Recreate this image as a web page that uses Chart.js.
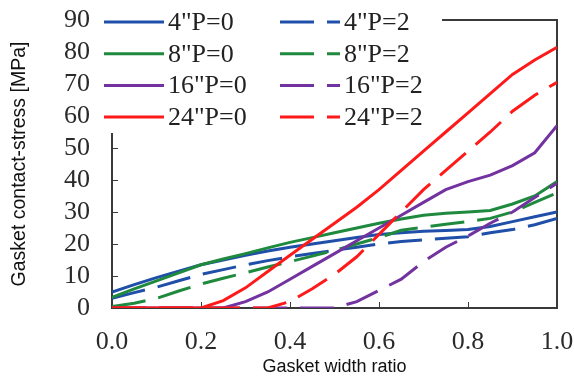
<!DOCTYPE html>
<html>
<head>
<meta charset="utf-8">
<script src="https://cdn.jsdelivr.net/npm/chart.js@4.4.1/dist/chart.umd.min.js"></script>
<style>
  html, body { margin: 0; padding: 0; background: #fff; }
  #wrap { width: 574px; height: 378px; }
</style>
</head>
<body>
<div id="wrap"><canvas id="stress" width="574" height="378"></canvas></div>
<script>
// gasket width ratio (x)
const ratio = [0, 0.05, 0.1, 0.15, 0.2, 0.25, 0.3, 0.35, 0.4, 0.45, 0.5,
               0.55, 0.6, 0.65, 0.7, 0.75, 0.8, 0.85, 0.9, 0.95, 1.0];

// contact stress [MPa], P=0
const s4p0  = [5, 7.3, 9.5, 11.5, 13.5, 15, 16.5, 17.8, 19, 20, 21, 22, 23, 23.5, 24, 24.2, 24.5, 25.5, 27, 28.5, 30];
const s8p0  = [3.3, 6, 8.5, 11, 13.5, 15.3, 17, 18.8, 20.5, 22, 23.5, 25, 26.5, 27.8, 29, 29.6, 30, 30.5, 32.5, 35, 39.5];
const s16p0 = [0, 0, 0, 0, 0, 0, 2, 5, 9, 13, 17, 21, 25, 29, 33, 37, 39.5, 41.5, 44.5, 48.5, 57];
const s24p0 = [0, 0, 0, 0, 0, 2.3, 6.3, 11.4, 16.5, 21.5, 26.5, 31.5, 37, 43, 49, 55, 61, 67, 73, 77.5, 81.5];

// contact stress [MPa], P=2
const s4p2  = [3, 4.8, 6.5, 8.5, 10.5, 12, 13.5, 14.8, 16, 17, 18, 19, 20, 20.8, 21.3, 21.8, 22.3, 23.5, 24.5, 26, 28];
const s8p2  = [0.5, 1.5, 3, 5.3, 7.5, 9.3, 11, 12.8, 14.5, 16.2, 18, 20, 22, 24.3, 25.2, 26.2, 27, 28, 30, 33, 36];
const s16p2 = [0, 0, 0, 0, 0, 0, 0, 0, 0, 0, 0, 2, 5.5, 9, 14.5, 19, 22.5, 26.5, 30, 34.5, 39];
const s24p2 = [0, 0, 0, 0, 0, 0, 0, 0, 2, 6, 10.5, 16, 23, 30, 37, 43, 49, 55, 61.5, 66.5, 70.5];

const labels = ['4"P=0', '8"P=0', '16"P=0', '24"P=0', '4"P=2', '8"P=2', '16"P=2', '24"P=2'];
const series = [s4p0, s8p0, s16p0, s24p0, s4p2, s8p2, s16p2, s24p2];

const BLUE = '#1f4fa8';
const GREEN = '#1f8a3e';
const PURPLE = '#7232a0';
const RED = '#ff1a1a';
const colors = [BLUE, GREEN, PURPLE, RED, BLUE, GREEN, PURPLE, RED];
const layer = [4, 3, 2, 1, 4, 3, 2, 1];
const DASH = [34, 13];

const datasets = series.map((vals, i) => ({
  label: labels[i],
  data: ratio.map((x, k) => ({ x: x, y: vals[k] })),
  borderColor: colors[i],
  backgroundColor: colors[i],
  borderWidth: 3,
  borderDash: i >= 4 ? DASH : [],
  pointRadius: 0,
  tension: 0,
  fill: false,
  order: layer[i]
}));

const serif = 'Liberation Serif, Times New Roman, serif';
const sans = 'Liberation Sans, Arial, sans-serif';

const framePlugin = {
  id: 'frame',
  beforeDatasetsDraw(chart) {
    const { ctx, chartArea: a, scales: { x, y } } = chart;
    ctx.save();
    ctx.strokeStyle = '#3a3a3a';
    ctx.lineWidth = 2;
    ctx.strokeRect(a.left, a.top, a.right - a.left, a.bottom - a.top);
    ctx.lineWidth = 1;
    ctx.beginPath();
    y.ticks.forEach(t => {
      const py = Math.round(y.getPixelForValue(t.value)) + 0.5;
      ctx.moveTo(a.left, py);
      ctx.lineTo(a.left + 6, py);
    });
    x.ticks.forEach(t => {
      const px = Math.round(x.getPixelForValue(t.value)) + 0.5;
      ctx.moveTo(px, a.bottom);
      ctx.lineTo(px, a.bottom - 6);
    });
    ctx.stroke();
    ctx.restore();
  },
  afterDraw(chart) {
    const ctx = chart.ctx;
    ctx.save();
    ctx.fillStyle = '#fff';
    ctx.fillRect(96, 0, 346, 133);
    ctx.font = '26px ' + serif;
    ctx.textBaseline = 'middle';
    ctx.fillStyle = '#222';
    chart.data.datasets.forEach((ds, i) => {
      const col = Math.floor(i / 4);
      const row = i % 4;
      const lx = col === 0 ? 104 : 280;
      const ly = 22 + row * 31.7;
      ctx.strokeStyle = ds.borderColor;
      ctx.lineWidth = 3;
      ctx.setLineDash(ds.borderDash);
      ctx.beginPath();
      ctx.moveTo(lx, ly);
      ctx.lineTo(lx + 60, ly);
      ctx.stroke();
      ctx.setLineDash([]);
      ctx.fillText(ds.label, lx + 64, ly + 1);
    });
    ctx.restore();
  }
};

new Chart(document.getElementById('stress'), {
  type: 'line',
  data: { datasets: datasets },
  options: {
    responsive: false,
    animation: false,
    layout: { padding: { top: 20, right: 17, bottom: 0, left: 0 } },
    plugins: {
      legend: { display: false },
      tooltip: { enabled: false }
    },
    scales: {
      x: {
        type: 'linear',
        min: 0,
        max: 1,
        grid: { display: false, drawTicks: false },
        border: { display: false },
        ticks: {
          stepSize: 0.2,
          autoSkip: false,
          maxRotation: 0,
          padding: 19,
          color: '#2a2a2a',
          font: { family: serif, size: 26 },
          callback: v => v.toFixed(1)
        },
        title: {
          display: true,
          text: 'Gasket width ratio',
          color: '#111',
          font: { family: sans, size: 18 },
          padding: { top: 0, bottom: 0 }
        },
        afterFit: s => {
          s.height = 70;
          s.paddingLeft = 0;
          s.paddingRight = 0;
        }
      },
      y: {
        min: 0,
        max: 90,
        grid: { display: false, drawTicks: false },
        border: { display: false },
        ticks: {
          stepSize: 10,
          autoSkip: false,
          padding: 22,
          color: '#2a2a2a',
          font: { family: serif, size: 26 }
        },
        title: {
          display: true,
          text: 'Gasket contact-stress [MPa]',
          color: '#111',
          font: { family: sans, size: 19.5 },
          padding: { top: 8, bottom: 0 }
        },
        afterFit: s => {
          s.width = 112;
          s.paddingTop = 0;
          s.paddingBottom = 0;
        }
      }
    }
  },
  plugins: [framePlugin]
});
</script>
</body>
</html>
